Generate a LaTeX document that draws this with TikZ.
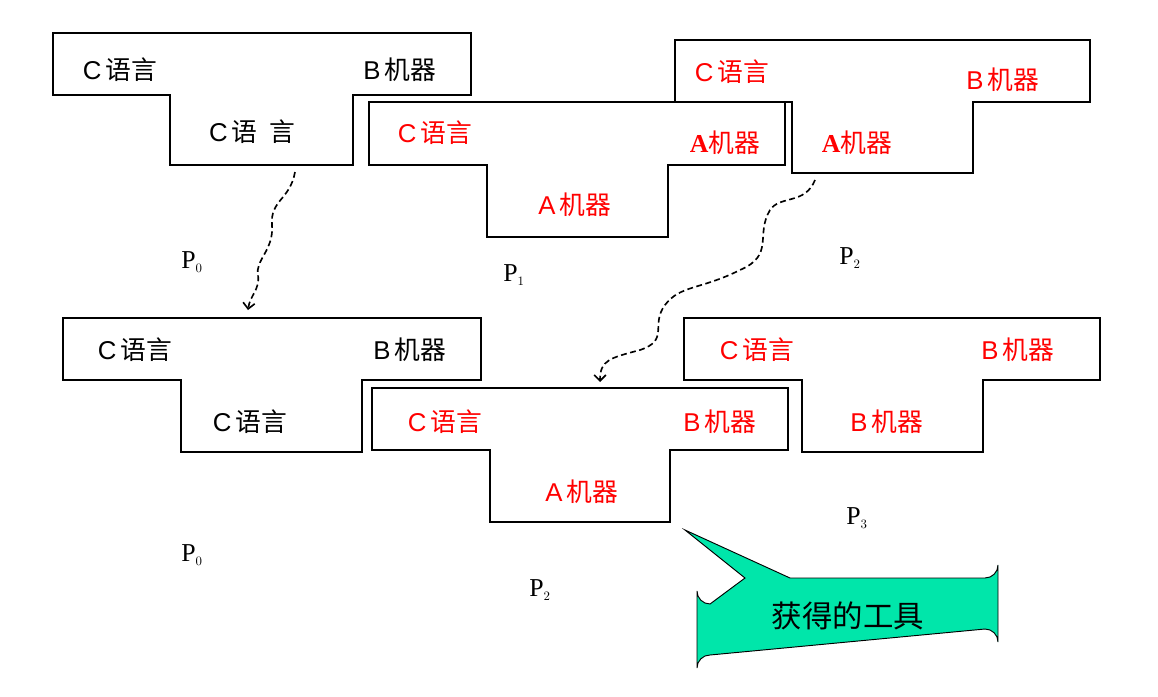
\documentclass[tikz,border=0pt]{standalone}
\usepackage{fontspec}
\setmainfont{Liberation Sans}
\newfontfamily\cjk{Noto Sans CJK SC}
\newfontfamily\tms{Liberation Serif}
\usetikzlibrary{arrows.meta}
\begin{document}
\begin{tikzpicture}[x=0.03cm,y=-0.03cm,
  tomb/.style={draw=black,line width=0.9pt,fill=white},
  lbl/.style={font=\fontsize{22}{24}\selectfont,inner sep=0pt},
  red/.style={lbl,text=red},
  plab/.style={font=\tms\fontsize{22}{24}\selectfont,inner sep=0pt},
  darr/.style={dashed,line width=1.4pt,dash pattern=on 5pt off 3pt,-{Straight Barb[length=5pt]}}]
\useasboundingbox (0,0) rectangle (1158,696);
\newcommand{\T}[3]{% left x, top y, name
}
% shape 1
\draw[tomb] (53,33)--(471,33)--(471,95)--(353,95)--(353,165)--(170,165)--(170,95)--(53,95)--cycle;
\node[lbl] (a1) at (120,70) {C\,{\cjk 语言}};
\node[lbl] (a2) at (400,70) {B\,{\cjk 机器}};
\node[lbl] (a3) at (252,132) {C\,{\cjk 语\ \ 言}};
% shape 3
\draw[tomb] (675,40)--(1090,40)--(1090,102)--(973,102)--(973,173)--(792,173)--(792,102)--(675,102)--cycle;
\node[red] (c1) at (732,72) {C\,{\cjk 语言}};
\node[red] (c2) at (1003,80) {B\,{\cjk 机器}};
\node[red] (c3) at (857,143) {{\tms\bfseries A}{\cjk 机器}};
% shape 2
\draw[tomb] (369,102)--(785,102)--(785,165)--(668,165)--(668,237)--(487,237)--(487,165)--(369,165)--cycle;
\node[red] (b1) at (435,133) {C\,{\cjk 语言}};
\node[red] (b2) at (725,143) {{\tms\bfseries A}{\cjk 机器}};
\node[red] (b3) at (575,205) {A\,{\cjk 机器}};
\node[plab] (p0) at (192,262) {P$_{\scriptscriptstyle 0}$};
\node[plab] (p1) at (514,275) {P$_{\scriptscriptstyle 1}$};
\node[plab] (p2) at (850,258) {P$_{\scriptscriptstyle 2}$};
% shape 4
\draw[tomb] (63,318)--(481,318)--(481,380)--(362,380)--(362,452)--(181,452)--(181,380)--(63,380)--cycle;
\node[lbl] (d1) at (135,350) {C\,{\cjk 语言}};
\node[lbl] (d2) at (410,350) {B\,{\cjk 机器}};
\node[lbl] (d3) at (250,422) {C\,{\cjk 语言}};
% shape 5
\draw[tomb] (372,388)--(788,388)--(788,450)--(670,450)--(670,522)--(490,522)--(490,450)--(372,450)--cycle;
\node[red] (e1) at (445,422) {C\,{\cjk 语言}};
\node[red] (e2) at (720,422) {B\,{\cjk 机器}};
\node[red] (e3) at (582,492) {A\,{\cjk 机器}};
% shape 6
\draw[tomb] (684,318)--(1100,318)--(1100,380)--(983,380)--(983,452)--(802,452)--(802,380)--(684,380)--cycle;
\node[red] (f1) at (757,350) {C\,{\cjk 语言}};
\node[red] (f2) at (1018,350) {B\,{\cjk 机器}};
\node[red] (f3) at (887,422) {B\,{\cjk 机器}};
\node[plab] (q0) at (192,555) {P$_{\scriptscriptstyle 0}$};
\node[plab] (q2) at (540,590) {P$_{\scriptscriptstyle 2}$};
\node[plab] (q3) at (857,518) {P$_{\scriptscriptstyle 3}$};
% callout
\draw[line width=0.8pt,fill={rgb,255:red,0;green,230;blue,170}]
  (745,578)--(685,530)--(790,578)--(985,578) arc[start angle=90,end angle=0,radius=13]
  --(998,642) arc[start angle=0,end angle=-90,radius=13]--(710,655)
  arc[start angle=270,end angle=180,radius=13]--(697,591) arc[start angle=180,end angle=90,radius=13]--cycle;
\node[font=\cjk\fontsize{26}{28}\selectfont] (g) at (848,616) {获得的工具};
% dashed arrows
\coordinate (s1) at (295,172); \coordinate (t1) at (248,310);
\draw[darr] (s1) .. controls (290,200) and (270,200) .. (272,225)
  .. controls (274,250) and (255,260) .. (258,275) .. controls (260,290) and (250,295) .. (t1);
\coordinate (s2) at (815,180); \coordinate (t2) at (600,382);
\draw[darr] (s2) .. controls (805,205) and (780,195) .. (770,210)
  .. controls (755,235) and (775,255) .. (740,270)
  .. controls (700,290) and (680,285) .. (665,305)
  .. controls (650,325) and (670,340) .. (640,350)
  .. controls (610,358) and (600,360) .. (t2);
\end{tikzpicture}
\end{document}
